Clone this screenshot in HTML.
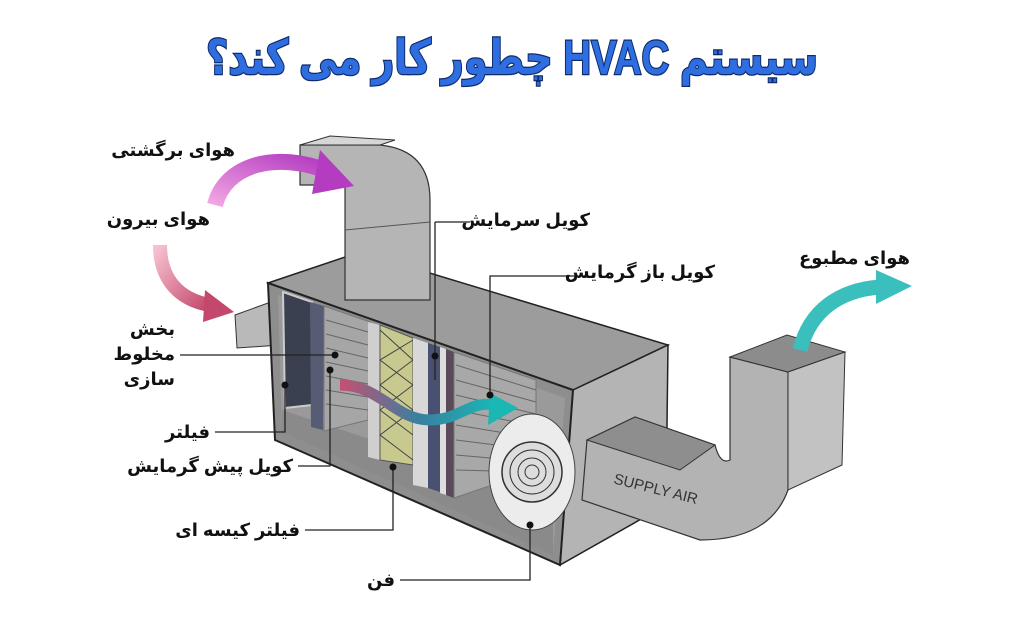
<!DOCTYPE html>
<html><head><meta charset="utf-8"><style>
html,body{margin:0;padding:0;background:#fff;width:1024px;height:620px;overflow:hidden}
svg{display:block}
.l{font-family:"Liberation Sans","DejaVu Sans",sans-serif;font-weight:bold;font-size:18px;fill:#111}
</style></head><body>
<svg width="1024" height="620" viewBox="0 0 1024 620" xmlns="http://www.w3.org/2000/svg">
<defs>
<linearGradient id="mg" x1="0" y1="1" x2="1" y2="0"><stop offset="0" stop-color="#f3a6e4"/><stop offset="1" stop-color="#b33cc0"/></linearGradient>
<linearGradient id="pg" x1="0" y1="0" x2="1" y2="1"><stop offset="0" stop-color="#f6c0cf"/><stop offset="1" stop-color="#c4486b"/></linearGradient>
<linearGradient id="tg" x1="0" y1="0" x2="1" y2="0"><stop offset="0" stop-color="#c65072"/><stop offset=".5" stop-color="#3a7fa0"/><stop offset="1" stop-color="#1ab7b5"/></linearGradient>
</defs>
<text x="512" y="74" text-anchor="middle" textLength="612" lengthAdjust="spacingAndGlyphs" font-family="'Liberation Sans','DejaVu Sans',sans-serif" font-weight="bold" font-size="48" fill="#2f6ee0" stroke="#0f2b6b" stroke-width="2.5" paint-order="stroke" direction="rtl">سیستم HVAC چطور کار می کند؟</text>

<polygon points="235,315 268,303 280,345 237,348" fill="#b9b9b9" stroke="#333"/>
<polygon points="268,283 360,252 668,345 573,390" fill="#9c9c9c" stroke="#222" stroke-width="1.5"/>
<polygon points="573,390 668,345 666,505 560,565" fill="#b4b4b4" stroke="#222" stroke-width="1.5"/>
<polygon points="268,283 573,390 560,565 275,440" fill="#8e8e8e" stroke="#222" stroke-width="2"/>
<polygon points="278,295 565,398 553,555 282,432" fill="#9a9a9a"/>
<polygon points="282,410 553,500 553,555 282,432" fill="#8a8a8a"/>
<polygon points="283,292 312,302 312,405 285,408" fill="#3a4050" stroke="#ccc" stroke-width="2"/>
<polygon points="310,302 324,306 323,430 311,427" fill="#555c74"/>
<polygon points="324,306 370,322 368,420 324,431" fill="#a6a6a6" stroke="#777"/>
<g stroke="#666" stroke-width="1">
<line x1="326" y1="320" x2="368" y2="332"/><line x1="326" y1="334" x2="368" y2="345"/><line x1="326" y1="348" x2="368" y2="358"/><line x1="326" y1="362" x2="368" y2="371"/><line x1="326" y1="376" x2="368" y2="384"/><line x1="326" y1="390" x2="368" y2="397"/><line x1="326" y1="404" x2="368" y2="410"/></g>
<polygon points="368,322 380,325 380,460 368,457" fill="#cfcfcf"/>
<polygon points="380,325 413,338 413,465 380,460" fill="#c8c98e" stroke="#555"/>
<path d="M380,330 L413,360 L380,385 L413,410 L380,435 L413,460 M413,340 L380,360 L413,385 L380,410 L413,435" stroke="#444" fill="none"/>
<polygon points="413,338 428,343 428,488 413,485" fill="#d8d8d8"/>
<polygon points="428,343 440,347 440,492 428,488" fill="#4a5070"/>
<polygon points="440,347 446,349 446,495 440,493" fill="#ddd"/>
<polygon points="446,349 454,352 454,498 446,495" fill="#5a4a5a"/>
<polygon points="454,352 536,380 536,470 454,498" fill="#a8a8a8" stroke="#777"/>
<g stroke="#666"><line x1="456" y1="365" x2="536" y2="390"/><line x1="456" y1="380" x2="536" y2="402"/><line x1="456" y1="395" x2="536" y2="414"/><line x1="456" y1="410" x2="536" y2="426"/><line x1="456" y1="425" x2="536" y2="438"/><line x1="456" y1="440" x2="536" y2="450"/><line x1="456" y1="455" x2="536" y2="462"/><line x1="456" y1="470" x2="536" y2="472"/></g>
<ellipse cx="532" cy="472" rx="43" ry="58" fill="#ececec" stroke="#444"/>
<circle cx="532" cy="472" r="30" fill="#ddd" stroke="#333" stroke-width="1.5"/>
<circle cx="532" cy="472" r="22" fill="none" stroke="#333"/><circle cx="532" cy="472" r="14" fill="none" stroke="#333"/><circle cx="532" cy="472" r="7" fill="none" stroke="#333"/>
<path d="M340,385 C380,385 395,420 430,420 C460,420 470,400 495,405" stroke="url(#tg)" stroke-width="11" fill="none"/>
<polygon points="490,393 518,408 488,425" fill="#1ab7b5"/>

<path d="M345,258 L345,185 L300,185 L300,145 L380,145 Q430,150 430,200 L430,300 L345,300 Z" fill="#b5b5b5" stroke="#333" stroke-width="1.2"/>
<polygon points="300,145 330,136 395,140 380,145" fill="#d6d6d6" stroke="#333"/>
<line x1="345" y1="230" x2="430" y2="222" stroke="#555"/>

<path d="M587,440 L635,417 L715,445 Q720,465 730,460 L730,357 L788,372 L788,490 Q770,540 700,540 L582,500 Z" fill="#b3b3b3" stroke="#333" stroke-width="1.2"/>
<polygon points="730,357 787,335 845,352 788,372" fill="#8c8c8c" stroke="#333"/>
<polygon points="788,372 845,352 842,465 788,490" fill="#c2c2c2" stroke="#333"/>
<polygon points="587,440 635,417 715,445 680,470" fill="#8e8e8e" stroke="#333"/>
<text x="612" y="490" font-family="'Liberation Sans',sans-serif" font-size="15" fill="#333" transform="rotate(14 640 490)">SUPPLY AIR</text>

<path d="M215,205 C225,165 275,150 330,172" stroke="url(#mg)" stroke-width="16" fill="none"/>
<polygon points="320,150 354,186 312,194" fill="#b33cc0"/>
<path d="M160,245 C160,280 180,300 210,305" stroke="url(#pg)" stroke-width="14" fill="none"/>
<polygon points="205,290 234,312 203,322" fill="#c4486b"/>
<path d="M800,350 C810,310 840,290 880,287" stroke="#3bbfbd" stroke-width="15" fill="none"/>
<polygon points="876,270 912,286 876,304" fill="#3bbfbd"/>

<g stroke="#222" stroke-width="1.3" fill="none">
<polyline points="435,222 435,380"/><polyline points="470,222 435,222"/>
<polyline points="575,276 490,276 490,395"/>
<polyline points="180,355 335,355"/>
<polyline points="215,432 285,432 285,385"/>
<polyline points="298,466 330,466 330,370"/>
<polyline points="305,530 393,530 393,467"/>
<polyline points="400,580 530,580 530,525"/>
</g>
<g fill="#111"><circle cx="335" cy="355" r="3.5"/><circle cx="285" cy="385" r="3.5"/><circle cx="330" cy="370" r="3.5"/><circle cx="393" cy="467" r="3.5"/><circle cx="530" cy="525" r="3.5"/><circle cx="435" cy="356" r="3.5"/><circle cx="490" cy="395" r="3.5"/></g>

<g direction="rtl">
<text x="235" y="156" class="l">هوای برگشتی</text>
<text x="210" y="225" class="l">هوای بیرون</text>
<text x="175" y="335" class="l">بخش</text>
<text x="175" y="360" class="l">مخلوط</text>
<text x="175" y="385" class="l">سازی</text>
<text x="210" y="438" class="l">فیلتر</text>
<text x="293" y="472" class="l">کویل پیش گرمایش</text>
<text x="300" y="536" class="l">فیلتر کیسه ای</text>
<text x="395" y="586" class="l">فن</text>
<text x="590" y="226" class="l">کویل سرمایش</text>
<text x="715" y="278" class="l">کویل باز گرمایش</text>
<text x="910" y="264" class="l">هوای مطبوع</text>
</g>
</svg>
</body></html>
